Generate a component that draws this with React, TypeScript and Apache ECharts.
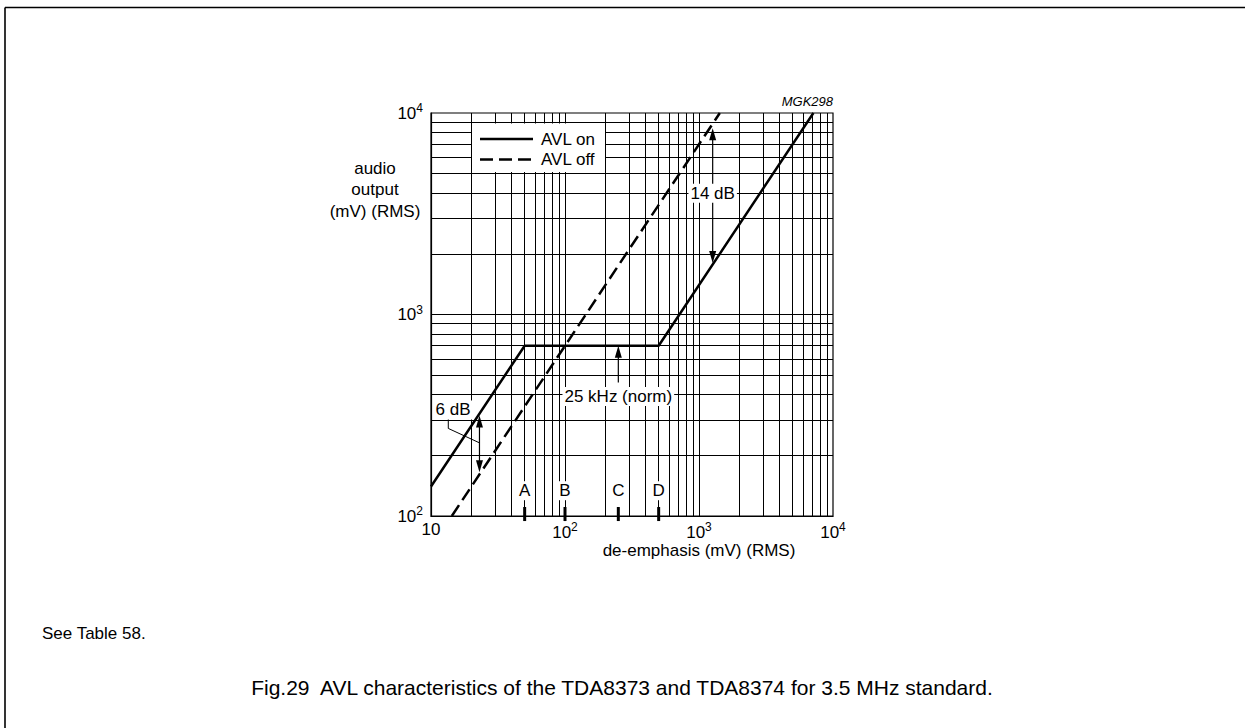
import React, { useEffect, useRef } from "react";
import * as echarts from "echarts";

// ---- data ----
const xMin = 10;
const xMax = 10000;
const yMin = 100;
const yMax = 10000;

const avlOnX = [10, 50, 500, 7143];
const avlOnY = [140, 700, 700, 10000];
const avlOffX = [14.3, 1430];
const avlOffY = [100, 10000];

const xGridValues = [
  20, 30, 40, 50, 60, 70, 80, 90, 100, 200, 300, 400, 500, 600, 700, 800, 900,
  1000, 2000, 3000, 4000, 5000, 6000, 7000, 8000, 9000,
];
const yGridValues = [
  200, 300, 400, 500, 600, 700, 800, 900, 1000, 2000, 3000, 4000, 5000, 6000,
  7000, 8000, 9000,
];

const markerLabels = ["A", "B", "C", "D"];
const markerValues = [50, 100, 250, 500];

const seriesNames = ["AVL on", "AVL off"];

const FONT = '"Liberation Sans", Arial, Helvetica, sans-serif';
const DASH = [13, 6];

export default function App() {
  const ref = useRef<HTMLDivElement>(null);

  useEffect(() => {
    if (!ref.current) return;
    const chart = echarts.init(ref.current, undefined, { renderer: "svg" });

    const fmt = (v: number) => {
      const e = Math.round(Math.log10(v));
      return e === 1 ? "{b|10}" : `{b|10}{s|${e}}`;
    };
    const rich = {
      b: { fontSize: 17, fontFamily: FONT, color: "#000" },
      s: { fontSize: 12, fontFamily: FONT, color: "#000", padding: [0, 0, 10, 0] },
    };

    chart.setOption({
      animation: false,
      backgroundColor: "#fff",
      grid: {
        left: 431,
        top: 113,
        width: 402,
        height: 403,
        show: true,
        borderColor: "#000",
        borderWidth: 1.2,
      },
      xAxis: {
        type: "log",
        logBase: 10,
        min: xMin,
        max: xMax,
        axisLine: { show: true, lineStyle: { color: "#000", width: 1.2 } },
        axisTick: { show: false },
        splitLine: { show: false },
        axisLabel: { formatter: fmt, rich, margin: 5 },
      },
      yAxis: {
        type: "log",
        logBase: 10,
        min: yMin,
        max: yMax,
        axisLine: { show: true, lineStyle: { color: "#000", width: 1.2 } },
        axisTick: { show: false },
        splitLine: { show: false },
        axisLabel: { formatter: fmt, rich, margin: 8 },
      },
      legend: { show: false, data: seriesNames },
      series: [
        {
          name: "grid",
          type: "line",
          data: [],
          z: 1,
          silent: true,
          markLine: {
            z: 1,
            silent: true,
            symbol: ["none", "none"],
            label: { show: false },
            lineStyle: { color: "#000", width: 1, type: "solid" },
            emphasis: { disabled: true },
            data: [
              ...xGridValues.map((v) => ({ xAxis: v })),
              ...yGridValues.map((v) => ({ yAxis: v })),
            ],
          },
        },
        {
          name: seriesNames[0],
          type: "line",
          z: 3,
          symbol: "none",
          data: avlOnX.map((x, i) => [x, avlOnY[i]]),
          lineStyle: { color: "#000", width: 2.5 },
          itemStyle: { color: "#000" },
        },
        {
          name: seriesNames[1],
          type: "line",
          z: 3,
          symbol: "none",
          data: avlOffX.map((x, i) => [x, avlOffY[i]]),
          lineStyle: { color: "#000", width: 2.5, type: DASH },
          itemStyle: { color: "#000" },
        },
      ],
    });

    const p = (x: number, y: number) =>
      chart.convertToPixel({ gridIndex: 0 }, [x, y]) as number[];

    const els: any[] = [];
    const txt = (text: string, x: number, y: number, opts: any = {}) => ({
      type: "text",
      z: opts.z ?? 50,
      style: {
        text,
        x,
        y,
        fontSize: opts.fontSize ?? 17,
        fontFamily: FONT,
        fontStyle: opts.fontStyle ?? "normal",
        fill: "#000",
        align: opts.align ?? "center",
        verticalAlign: "middle",
        backgroundColor: opts.bg ? "#fff" : undefined,
        padding: opts.bg ? [1, 2, 1, 2] : undefined,
      },
    });
    const ln = (
      x1: number,
      y1: number,
      x2: number,
      y2: number,
      w = 1.2,
      z = 40,
      dash?: number[]
    ) => ({
      type: "line",
      z,
      shape: { x1, y1, x2, y2 },
      style: { stroke: "#000", lineWidth: w, lineDash: dash },
    });
    const head = (tx: number, ty: number, dir: number, z = 40) => ({
      type: "polygon",
      z,
      shape: {
        points: [
          [tx, ty],
          [tx - 3.5, ty - dir * 12],
          [tx + 3.5, ty - dir * 12],
        ],
      },
      style: { fill: "#000" },
    });
    const arrow = (x: number, yTip: number, yTail: number) => {
      const [tx, ty] = p(x, yTip);
      const [, ty2] = p(x, yTail);
      const dir = ty > ty2 ? 1 : -1;
      els.push(ln(tx, ty2, tx, ty - dir * 10));
      els.push(head(tx, ty, dir));
    };
    const dblArrow = (x: number, yTop: number, yBottom: number) => {
      const [tx, t1] = p(x, yTop);
      const [, t2] = p(x, yBottom);
      els.push(ln(tx, t1 + 10, tx, t2 - 10));
      els.push(head(tx, t1, -1));
      els.push(head(tx, t2, 1));
    };

    // page border (top and left)
    els.push(ln(5, 7.5, 1245, 7.5, 1.6, 10));
    els.push(ln(5, 7.5, 5, 728, 1.6, 10));

    // legend (white box covering the grid)
    els.push({
      type: "rect",
      z: 45,
      shape: { x: 472, y: 123.5, width: 133, height: 48.5 },
      style: { fill: "#fff" },
    });
    els.push(ln(480, 139, 533, 139, 2.5, 46));
    els.push(txt(seriesNames[0], 541, 139, { align: "left", z: 46 }));
    els.push(ln(480, 159.5, 533, 159.5, 2.5, 46, DASH));
    els.push(txt(seriesNames[1], 541, 159.5, { align: "left", z: 46 }));

    // axis titles
    els.push(txt("audio", 375, 168));
    els.push(txt("output", 375, 189.5));
    els.push(txt("(mV) (RMS)", 375, 211));
    els.push(txt("de-emphasis (mV) (RMS)", 699, 550));
    els.push(txt("MGK298", 833, 101.5, { align: "right", fontSize: 13, fontStyle: "italic" }));

    // footer
    els.push(txt("See Table 58.", 42, 633, { align: "left" }));
    els.push(
      txt("Fig.29  AVL characteristics of the TDA8373 and TDA8374 for 3.5 MHz standard.", 622, 687, {
        fontSize: 21,
      })
    );

    // A-D markers
    markerValues.forEach((v, i) => {
      const [mx, my1] = p(v, 110.8);
      const [, my2] = p(v, 94.4);
      els.push(ln(mx, my1, mx, my2, 3, 45));
      const [lx, ly] = p(v, 133.5);
      els.push(txt(markerLabels[i], lx, ly, { bg: true }));
    });

    // 6 dB
    dblArrow(23, 315, 165);
    {
      const pts = [p(13.46, 317), p(13.46, 272), p(22.9, 231)];
      els.push({
        type: "polyline",
        z: 40,
        shape: { points: pts },
        style: { stroke: "#000", lineWidth: 1, fill: null },
      });
      const [x, y] = p(14.6, 336);
      els.push(txt("6 dB", x, y, { bg: true }));
    }

    // 14 dB
    dblArrow(1265, 8400, 1800);
    {
      const [x, y] = p(1265, 4000);
      els.push(txt("14 dB", x, y, { bg: true }));
    }

    // 25 kHz
    arrow(250, 700, 460);
    {
      const [x, y] = p(250, 392);
      els.push(txt("25 kHz (norm)", x, y, { bg: true }));
    }

    chart.setOption({ graphic: els });

    return () => chart.dispose();
  }, []);

  return (
    <div
      ref={ref}
      style={{ position: "absolute", left: 0, top: 0, width: 1245, height: 728 }}
    />
  );
}
